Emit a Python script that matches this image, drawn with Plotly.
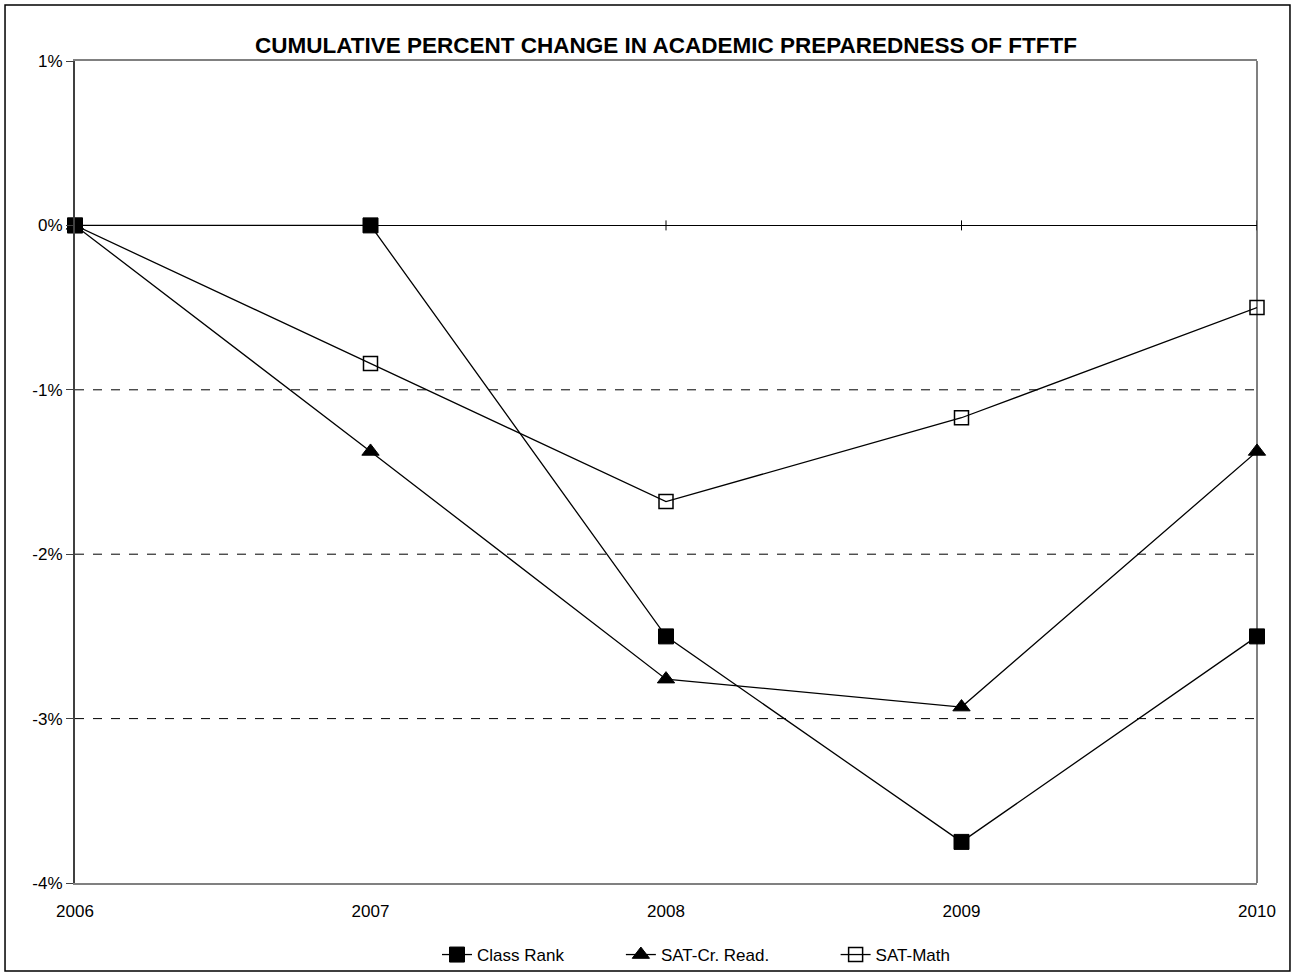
import plotly.graph_objects as go

years = [2006, 2007, 2008, 2009, 2010]
class_rank = [0.0, 0.0, -2.5, -3.75, -2.5]
sat_read = [0.0, -1.375, -2.76, -2.93, -1.375]
sat_math = [0.0, -0.84, -1.68, -1.17, -0.50]
series_names = ["Class Rank", "SAT-Cr. Read.", "SAT-Math"]
y_ticks = [1, 0, -1, -2, -3, -4]
y_ticktext = ["1%", "0%", "-1%", "-2%", "-3%", "-4%"]
grid_levels = [-1, -2, -3]

FONT = "Liberation Sans, Arial, sans-serif"
pads = [11, 13, 0]

fig = go.Figure()
markers = [
    dict(symbol="square", size=15, color="black", line=dict(color="black", width=1)),
    dict(symbol="triangle-up", size=15, color="black", line=dict(color="black", width=1)),
    dict(symbol="square-open", size=14, color="black", line=dict(color="black", width=1.5)),
]
for name, vals, mk, pad in zip(series_names, [class_rank, sat_read, sat_math], markers, pads):
    fig.add_trace(go.Scatter(x=years, y=vals, name=name + "\u00a0" * pad, mode="lines+markers",
                             line=dict(color="black", width=1.3), marker=mk, cliponaxis=False))

shapes = []
for g in grid_levels:
    shapes.append(dict(type="line", xref="paper", yref="y", x0=0, x1=1, y0=g, y1=g,
                       line=dict(color="black", width=1, dash="dash"), layer="below"))
for yr in years:
    shapes.append(dict(type="line", xref="x", yref="y", ysizemode="pixel", yanchor=0,
                       x0=yr, x1=yr, y0=-5, y1=5, line=dict(color="black", width=1), layer="below"))
# right frame line
shapes.append(dict(type="line", xref="paper", yref="paper", x0=1, x1=1, y0=0, y1=1,
                   line=dict(color="#808080", width=2), layer="below"))
# outer chart border
shapes.append(dict(type="rect", xref="paper", yref="paper", x0=-0.0592, x1=1.0279, y0=-0.107, y1=1.068,
                   line=dict(color="black", width=1.5), fillcolor="rgba(0,0,0,0)"))

fig.update_layout(
    width=1295, height=976,
    margin=dict(l=75, r=38, t=61, b=93, autoexpand=False),
    paper_bgcolor="white", plot_bgcolor="white",
    font=dict(family=FONT, size=17, color="black"),
    title=dict(text="<b>CUMULATIVE PERCENT CHANGE IN ACADEMIC PREPAREDNESS OF FTFTF</b>",
               x=0.5, xanchor="center", xref="paper", y=1 - 45 / 976, yanchor="middle",
               font=dict(family=FONT, size=22.5, color="black")),
    xaxis=dict(range=[2006, 2010], tickvals=years, ticktext=[str(y) for y in years],
               showgrid=False, zeroline=False, showline=True, linecolor="#808080", linewidth=2,
               mirror=True, ticks="", ticklabelstandoff=12, tickfont=dict(size=17)),
    yaxis=dict(range=[-4, 1], tickvals=y_ticks, ticktext=y_ticktext, showgrid=False,
               zeroline=True, zerolinecolor="black", zerolinewidth=1.2,
               showline=True, linecolor="#404040", linewidth=2, ticks="outside",
               ticklen=7, tickcolor="#404040", tickwidth=1, tickfont=dict(size=17)),
    legend=dict(orientation="h", xref="container", yref="container",
                x=437 / 1295, xanchor="left", y=1 - 955 / 976, yanchor="middle",
                bgcolor="rgba(0,0,0,0)",
                font=dict(family=FONT, size=17), traceorder="normal"),
    showlegend=True,
    shapes=shapes,
)

fig.write_html("out.html", config={"displayModeBar": False},
               post_script="document.body.style.margin='0';")
